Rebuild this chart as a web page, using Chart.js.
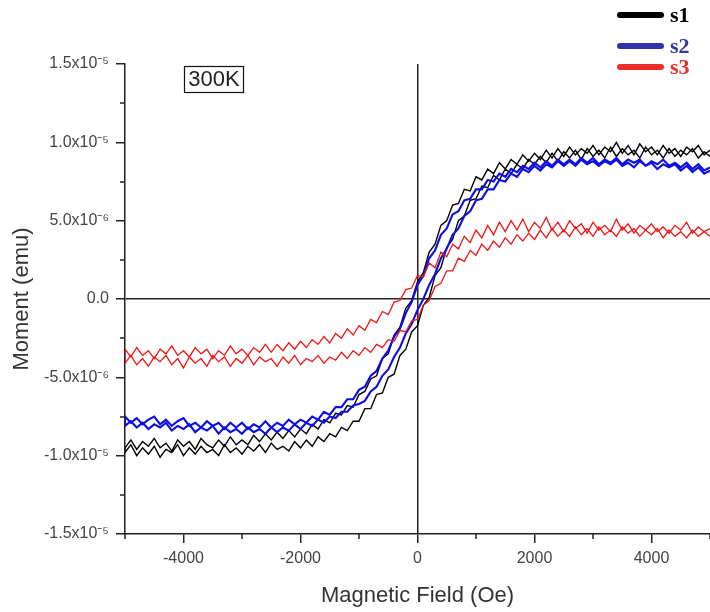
<!DOCTYPE html>
<html>
<head>
<meta charset="utf-8">
<script src="https://cdn.jsdelivr.net/npm/chart.js@4.4.1/dist/chart.umd.min.js"></script>
<style>
  html, body { margin: 0; padding: 0; background: #fff; }
  #wrap { width: 710px; height: 612px; }
</style>
</head>
<body>
<div id="wrap"><canvas id="chart" width="710" height="612"></canvas></div>
<script>
// field sweep (Oe)
const fieldOe = [
  -5000, -4900, -4800, -4700, -4600, -4500, -4400, -4300, -4200, -4100,
  -4000, -3900, -3800, -3700, -3600, -3500, -3400, -3300, -3200, -3100,
  -3000, -2900, -2800, -2700, -2600, -2500, -2400, -2300, -2200, -2100,
  -2000, -1900, -1800, -1700, -1600, -1500, -1400, -1300, -1200, -1100,
  -1000, -900, -800, -700, -600, -500, -400, -300, -200, -100,
  0, 100, 200, 300, 400, 500, 600, 700, 800, 900,
  1000, 1100, 1200, 1300, 1400, 1500, 1600, 1700, 1800, 1900,
  2000, 2100, 2200, 2300, 2400, 2500, 2600, 2700, 2800, 2900,
  3000, 3100, 3200, 3300, 3400, 3500, 3600, 3700, 3800, 3900,
  4000, 4100, 4200, 4300, 4400, 4500, 4600, 4700, 4800, 4900,
  5000
];

// moment, in units of 1e-6 emu
// "Down" = branch swept from +H to -H, "Up" = branch swept from -H to +H
const s1Down = [
  -9.5, -9.0, -9.6, -9.1, -9.4, -8.9, -9.5, -9.2, -9.7, -9.0,
  -9.4, -9.1, -9.6, -8.9, -9.3, -9.5, -9.0, -9.4, -8.8, -9.3,
  -9.0, -9.3, -8.7, -9.1, -8.6, -9.0, -8.5, -8.9, -8.4, -8.8,
  -8.3, -8.6, -8.0, -8.3, -7.7, -7.9, -7.3, -7.4, -6.8, -6.9,
  -6.1, -5.9, -5.1, -4.9, -3.8, -3.5, -2.3, -1.8, -0.6, -0.1,
  1.1, 1.7, 3.0, 3.5, 4.7, 5.0, 6.0, 6.1, 7.0, 6.9,
  7.8, 7.6, 8.3, 8.0, 8.7, 8.3, 8.9, 8.6, 9.2, 8.8,
  9.3, 8.9, 9.5, 9.0, 9.6, 9.1, 9.7, 9.2, 9.6, 9.3,
  9.8, 9.2, 9.7, 9.4, 10.0, 9.3, 9.8, 9.2, 9.9, 9.4,
  9.7, 9.2, 9.8, 9.3, 9.6, 9.1, 9.7, 9.4, 9.8, 9.2,
  9.5
];
const s1Up = [
  -9.8, -9.3, -10.0, -9.5, -9.9, -9.4, -10.1, -9.6, -9.8, -9.3,
  -10.0, -9.5, -9.9, -9.4, -9.8, -9.6, -10.0, -9.3, -9.8, -9.5,
  -9.9, -9.4, -9.7, -9.3, -9.8, -9.2, -9.6, -9.4, -9.7, -9.1,
  -9.5, -9.0, -9.4, -8.8, -9.1, -8.6, -8.8, -8.2, -8.4, -7.8,
  -7.8, -7.0, -7.0, -6.1, -6.0, -5.0, -4.8, -3.6, -3.2, -2.1,
  -1.7, -0.4, 0.1, 1.5, 2.0, 3.3, 3.8, 5.0, 5.3, 6.3,
  6.4, 7.2, 7.1, 7.9, 7.6, 8.3, 8.0, 8.6, 8.3, 8.9,
  8.6, 9.1, 8.7, 9.3, 8.8, 9.4, 9.0, 9.5, 8.9, 9.6,
  9.1, 9.5, 9.0, 9.7, 9.1, 9.6, 9.2, 9.5, 9.0, 9.7,
  9.2, 9.5, 9.0, 9.6, 9.1, 9.5, 9.2, 9.6, 9.0, 9.4,
  9.1
];
const s2Down = [
  -7.5, -7.9, -7.6, -8.0, -7.7, -7.5, -8.0, -7.7, -8.1, -7.8,
  -7.6, -8.1, -7.9, -8.2, -7.8, -8.1, -7.9, -8.3, -7.9, -8.2,
  -7.9, -8.3, -8.0, -8.2, -7.8, -8.2, -7.9, -8.1, -7.7, -8.0,
  -7.7, -7.9, -7.5, -7.7, -7.2, -7.4, -6.9, -6.9, -6.4, -6.4,
  -5.8, -5.6, -4.9, -4.6, -3.8, -3.3, -2.4, -1.9, -0.9, -0.2,
  0.9, 1.5, 2.6, 3.1, 4.1, 4.5, 5.4, 5.6, 6.3, 6.4,
  7.0, 7.0, 7.6, 7.5, 8.0, 7.8, 8.3, 8.1, 8.5, 8.3,
  8.7, 8.4, 8.8, 8.5, 8.9, 8.6, 8.9, 8.6, 9.0, 8.7,
  9.0, 8.6, 8.9, 8.7, 9.0, 8.6, 8.9, 8.7, 8.9, 8.5,
  8.8, 8.6, 8.9, 8.5, 8.7, 8.4, 8.7, 8.3, 8.6, 8.2,
  8.4
];
const s2Up = [
  -8.1, -7.8, -8.2, -7.9, -8.3, -8.0, -8.2, -7.9, -8.4, -8.1,
  -8.3, -8.0, -8.5, -8.2, -8.4, -8.1, -8.6, -8.2, -8.5, -8.3,
  -8.6, -8.2, -8.5, -8.3, -8.6, -8.2, -8.5, -8.2, -8.4, -8.0,
  -8.3, -7.9, -8.1, -7.7, -7.9, -7.5, -7.6, -7.2, -7.2, -6.8,
  -6.7, -6.5, -5.9, -5.6, -4.9, -4.5, -3.7, -3.1, -2.2, -1.6,
  -0.7, 0.0, 0.9, 1.6, 2.6, 3.2, 4.1, 4.5, 5.3, 5.6,
  6.3, 6.4, 7.0, 7.0, 7.6, 7.5, 8.0, 7.8, 8.3, 8.1,
  8.5, 8.2, 8.6, 8.4, 8.8, 8.5, 8.8, 8.5, 8.9, 8.6,
  8.8, 8.5, 8.8, 8.6, 8.9, 8.5, 8.7, 8.4, 8.8, 8.5,
  8.7, 8.3, 8.6, 8.4, 8.6, 8.2, 8.5, 8.1, 8.4, 8.0,
  8.2
];
const s3Down = [
  -3.2, -3.7, -3.1, -3.6, -3.3, -3.8, -3.2, -3.5, -3.0, -3.6,
  -3.3, -3.7, -3.1, -3.5, -3.2, -3.8, -3.3, -3.6, -3.0, -3.5,
  -3.2, -3.6, -3.1, -3.4, -2.9, -3.4, -2.9, -3.3, -2.8, -3.2,
  -2.7, -3.1, -2.6, -2.9, -2.4, -2.8, -2.2, -2.5, -1.9, -2.3,
  -1.7, -2.0, -1.3, -1.5, -0.8, -1.0, -0.2, -0.1, 0.6, 0.7,
  1.5, 1.4, 2.3, 2.0, 3.0, 2.7, 3.5, 3.2, 4.0, 3.6,
  4.4, 3.9, 4.7, 4.1, 4.9, 4.3, 5.0, 4.4, 5.1, 4.3,
  4.9, 4.5, 5.2, 4.4, 4.9, 4.3, 5.0, 4.5, 4.8, 4.2,
  4.9, 4.4, 4.7, 4.3, 5.1, 4.4, 4.8, 4.2, 4.7, 4.4,
  4.8, 4.3, 4.6, 4.2, 4.7, 4.4, 4.9, 4.2, 4.6, 4.3,
  4.5
];
const s3Up = [
  -4.1, -3.6, -4.2, -3.8, -4.3, -3.7, -4.0, -3.6, -4.2, -3.8,
  -4.4, -3.7, -4.1, -3.8, -4.3, -3.6, -4.0, -3.7, -4.3, -3.8,
  -4.1, -3.6, -4.2, -3.7, -4.0, -3.8, -4.3, -3.7, -4.1, -3.6,
  -4.2, -3.8, -4.0, -3.6, -4.1, -3.7, -3.9, -3.4, -3.8, -3.3,
  -3.6, -3.1, -3.4, -2.9, -3.1, -2.6, -2.7, -2.0, -2.1, -1.4,
  -1.3, -0.4, -0.1, 0.8, 1.0, 1.8, 1.8, 2.6, 2.4, 3.1,
  2.8, 3.5, 3.1, 3.7, 3.3, 3.9, 3.5, 4.1, 3.7, 4.2,
  3.8, 4.4, 3.9, 4.5, 4.0, 4.4, 4.0, 4.6, 4.1, 4.5,
  4.0, 4.6, 4.1, 4.4, 4.0, 4.6, 4.2, 4.5, 4.0, 4.4,
  4.1, 4.5, 3.9, 4.4, 4.0, 4.3, 3.9, 4.4, 4.0, 4.3,
  4.0
];

const seriesNames = ['s1', 's2', 's3'];
const xTicks = [-4000, -2000, 0, 2000, 4000];
const xMinorTicks = [-5000, -3000, -1000, 1000, 3000, 5000];
const yTicks = [-1.5e-5, -1.0e-5, -5e-6, 0, 5e-6, 1.0e-5, 1.5e-5];
const yTickLabels = ['-1.5x10⁻⁵', '-1.0x10⁻⁵', '-5.0x10⁻⁶', '0.0', '5.0x10⁻⁶', '1.0x10⁻⁵', '1.5x10⁻⁵'];
const yMinorTicks = [-1.25e-5, -7.5e-6, -2.5e-6, 2.5e-6, 7.5e-6, 1.25e-5];
const tempLabel = '300K';

const lineColors = ['#000000', '#0d0de6', '#f01414'];
const legendColors = ['#000000', '#3434a6', '#e8302a'];
const sansFont = '"Liberation Sans", Arial, sans-serif';
const serifFont = '"Liberation Serif", "Times New Roman", serif';

// one closed loop: down branch (+H -> -H) followed by up branch (-H -> +H)
function loopPoints(down, up) {
  const pts = [];
  for (let i = fieldOe.length - 1; i >= 0; i--) pts.push({ x: fieldOe[i], y: down[i] * 1e-6 });
  for (let i = 0; i < fieldOe.length; i++) pts.push({ x: fieldOe[i], y: up[i] * 1e-6 });
  return pts;
}

const extras = {
  id: 'extras',
  afterDraw(chart) {
    const { ctx, chartArea } = chart;
    const x = chart.scales.x;
    const y = chart.scales.y;
    ctx.save();

    // minor ticks
    ctx.strokeStyle = '#222';
    ctx.lineWidth = 1.5;
    ctx.beginPath();
    xMinorTicks.forEach(v => {
      const px = Math.round(x.getPixelForValue(v));
      ctx.moveTo(px, chartArea.bottom);
      ctx.lineTo(px, chartArea.bottom + 5);
    });
    yMinorTicks.forEach(v => {
      const py = Math.round(y.getPixelForValue(v));
      ctx.moveTo(chartArea.left - 5, py);
      ctx.lineTo(chartArea.left, py);
    });
    ctx.stroke();

    // temperature box
    ctx.lineWidth = 1.2;
    ctx.strokeStyle = '#111';
    ctx.strokeRect(184.5, 66.5, 59, 26);
    ctx.fillStyle = '#222';
    ctx.font = '22px ' + sansFont;
    ctx.textAlign = 'center';
    ctx.textBaseline = 'middle';
    ctx.fillText(tempLabel, 214, 80);

    // legend
    const rowY = [15, 46, 67];
    ctx.textAlign = 'left';
    ctx.font = 'bold 22px ' + serifFont;
    seriesNames.forEach((name, i) => {
      ctx.strokeStyle = legendColors[i];
      ctx.lineWidth = 6;
      ctx.lineCap = 'round';
      ctx.beginPath();
      ctx.moveTo(620, rowY[i]);
      ctx.lineTo(661, rowY[i]);
      ctx.stroke();
      ctx.fillStyle = legendColors[i];
      ctx.fillText(name, 670, rowY[i] + 1);
    });
    ctx.restore();
  }
};

const zeroLine = c => (c.tick && c.tick.value === 0 ? '#222' : 'rgba(0,0,0,0)');

new Chart(document.getElementById('chart'), {
  type: 'line',
  data: {
    datasets: [
      { label: seriesNames[0], data: loopPoints(s1Down, s1Up), borderColor: lineColors[0], borderWidth: 1.4, order: 3 },
      { label: seriesNames[1], data: loopPoints(s2Down, s2Up), borderColor: lineColors[1], borderWidth: 2.1, order: 2 },
      { label: seriesNames[2], data: loopPoints(s3Down, s3Up), borderColor: lineColors[2], borderWidth: 1.3, order: 1 }
    ]
  },
  options: {
    responsive: false,
    animation: false,
    devicePixelRatio: 1,
    events: [],
    elements: { point: { radius: 0 }, line: { tension: 0, fill: false } },
    layout: { padding: { top: 64, right: 0, left: 0, bottom: 0 } },
    plugins: { legend: { display: false }, tooltip: { enabled: false } },
    scales: {
      x: {
        type: 'linear',
        min: -5000,
        max: 5000,
        afterBuildTicks: s => { s.ticks = xTicks.map(v => ({ value: v })); },
        afterFit: s => { s.height = 78; },
        border: { display: true, color: '#222', width: 1.5 },
        grid: { color: zeroLine, lineWidth: 1.5, drawTicks: true, tickLength: 9, tickColor: '#222', tickWidth: 1.5 },
        ticks: {
          autoSkip: false, maxRotation: 0, padding: 6, color: '#444',
          font: { family: sansFont, size: 16 },
          callback: v => String(v)
        },
        title: {
          display: true, text: 'Magnetic Field (Oe)', color: '#333',
          font: { family: sansFont, size: 22 },
          padding: { top: 0, bottom: 3 }
        }
      },
      y: {
        type: 'linear',
        min: -1.5e-5,
        max: 1.5e-5,
        afterBuildTicks: s => { s.ticks = yTicks.map(v => ({ value: v })); },
        afterFit: s => { s.width = 125; },
        border: { display: true, color: '#222', width: 1.5 },
        grid: { color: zeroLine, lineWidth: 1.5, drawTicks: true, tickLength: 9, tickColor: '#222', tickWidth: 1.5 },
        ticks: {
          padding: 7, color: '#444',
          font: { family: sansFont, size: 16 },
          callback: (v, i) => yTickLabels[i]
        },
        title: {
          display: true, text: 'Moment (emu)', color: '#333',
          font: { family: sansFont, size: 22 },
          padding: { top: 9, bottom: 0 }
        }
      }
    }
  },
  plugins: [extras]
});
</script>
</body>
</html>
